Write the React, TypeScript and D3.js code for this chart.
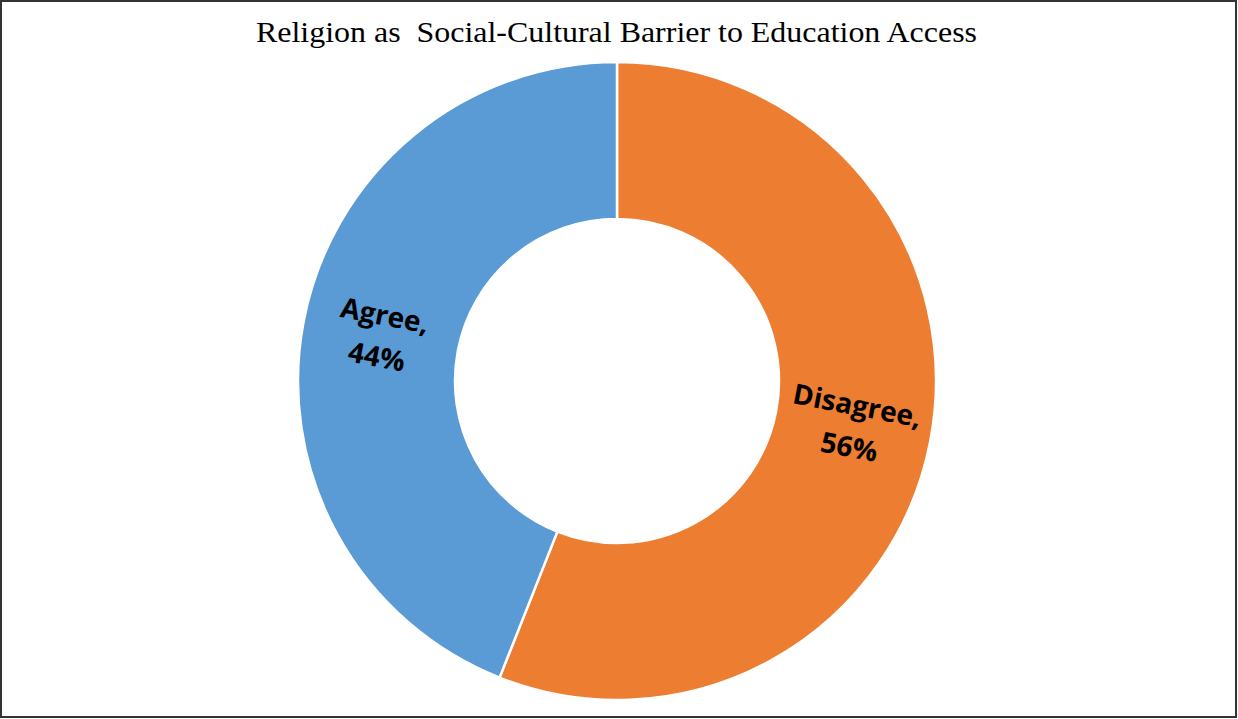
import React from "react";
import * as d3 from "d3";

const title = "Religion as\u00a0\u00a0Social-Cultural Barrier to Education Access";
const categories = ["Disagree", "Agree"];
const values = [56, 44];
const colors = ["#ED7D31", "#5B9BD5"];

const W = 1238;
const H = 719;

export default function App() {
  const cx = 617;
  const cy = 381;
  const outerR = 319;
  const innerR = 162;
  const pie = d3.pie<number>().sort(null).value((d) => d)(values);
  const arc = d3.arc<d3.PieArcDatum<number>>().innerRadius(innerR).outerRadius(outerR);
  const labelArc = d3.arc<d3.PieArcDatum<number>>().innerRadius(innerR).outerRadius(outerR);

  return (
    <svg width={W} height={H} style={{ position: "absolute", left: 0, top: 0, background: "#fff" }}>
      <rect x={1} y={1} width={W - 3} height={H - 3} fill="#fff" stroke="#333" strokeWidth={2} />
      <text
        x={256}
        y={42}
        textLength={721}
        lengthAdjust="spacingAndGlyphs"
        fontFamily="'Liberation Serif', 'Times New Roman', serif"
        fontSize={30}
        fill="#000"
      >
        {title}
      </text>
      <g transform={`translate(${cx},${cy})`}>
        {pie.map((p, i) => (
          <path key={categories[i]} d={arc(p) || ""} fill={colors[i]} stroke="#fff" strokeWidth={2.5} />
        ))}
        {pie.map((p, i) => {
          const [lx, ly] = labelArc.centroid(p);
          const midDeg = (((p.startAngle + p.endAngle) / 2) * 180) / Math.PI;
          let rot = midDeg - 90;
          if (midDeg > 180) rot = midDeg - 270;
          return (
            <g key={"l" + i} transform={`translate(${lx},${ly}) rotate(${rot})`}>
              <text
                textAnchor="middle"
                fontFamily="'Open Sans', 'Noto Sans', sans-serif"
                fontWeight="bold"
                fontSize={28}
                fill="#000"
              >
                <tspan x={0} y={-11}>{categories[i] + ","}</tspan>
                <tspan x={0} y={31}>{values[i] + "%"}</tspan>
              </text>
            </g>
          );
        })}
      </g>
    </svg>
  );
}
